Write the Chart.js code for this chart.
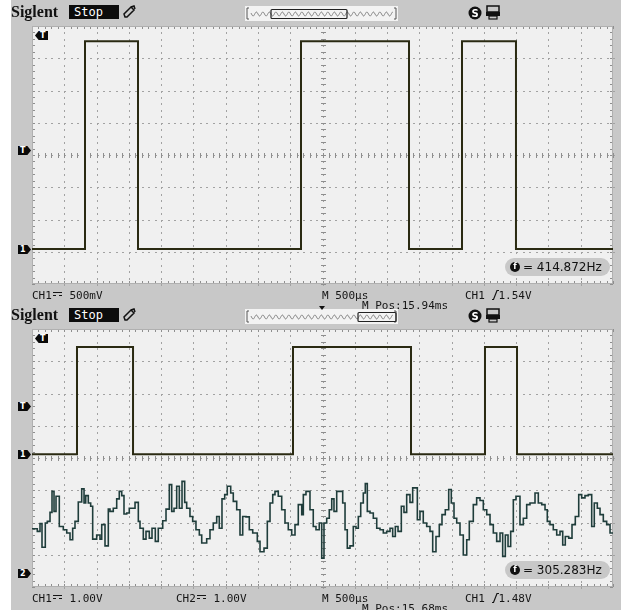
<!DOCTYPE html>
<html><head><meta charset="utf-8">
<script src="https://cdn.jsdelivr.net/npm/chart.js@4.4.1/dist/chart.umd.min.js"></script>
<style>
html,body{margin:0;padding:0;background:#fff;}
body{width:630px;height:610px;position:relative;overflow:hidden;}
#frame{position:absolute;left:11px;top:0;width:610px;height:610px;background:#c8c8c8;}
.panel{position:absolute;left:0;width:630px;height:305px;}
.panel canvas{position:absolute;left:0;top:0;}
.t{position:absolute;font-family:"DejaVu Sans Mono",monospace;font-size:11px;line-height:12px;color:#151515;white-space:nowrap;}
.brand{position:absolute;left:11px;top:3px;font-family:"Liberation Serif","DejaVu Serif",serif;font-weight:bold;font-size:16px;line-height:18px;color:#111;}
.stop{position:absolute;left:69px;top:5px;width:50px;height:14px;background:#0c0c0c;color:#fff;font-family:"DejaVu Sans Mono",monospace;font-size:12px;line-height:14px;padding-left:5px;box-sizing:border-box;}
.tl{position:absolute;left:245px;top:6px;width:153px;height:15px;background:#f3f3f3;}
.tag{position:absolute;width:13px;height:9px;background:#0a0a0a;color:#fff;font-family:"DejaVu Sans",sans-serif;font-weight:bold;font-size:8px;line-height:9px;box-sizing:border-box;}
.tagR{clip-path:polygon(0 0,72% 0,100% 50%,72% 100%,0 100%);padding-left:2px;}
.tagL{clip-path:polygon(28% 0,100% 0,100% 100%,28% 100%,0 50%);padding-left:5px;}
.pill{position:absolute;left:505px;top:258px;width:105px;height:18px;border-radius:9px;background:#c8c8c8;}
.pill .f{position:absolute;left:5px;top:4px;width:10px;height:10px;border-radius:5px;background:#111;color:#fff;font-size:8px;line-height:10px;text-align:center;font-family:"DejaVu Sans",sans-serif;font-weight:bold;}
.pill .v{position:absolute;left:18px;top:2px;font-family:"DejaVu Sans",sans-serif;font-size:12px;line-height:14px;color:#111;white-space:nowrap;}
.dc{display:inline-block;width:9px;height:2px;border-top:1px solid #151515;border-bottom:1px dashed #151515;vertical-align:3px;margin:0 1px 0 1px;}
svg{position:absolute;overflow:visible;}
</style></head>
<body>
<div id="frame"></div>

<div class="panel" id="p1" style="top:0">
  <canvas id="c1" width="630" height="305"></canvas>
  <div class="brand">Siglent</div>
  <div class="stop">Stop</div>
  <svg style="left:122px;top:5px" width="14" height="14"><path d="M3 12 L2 9 L9 2 L12 5 L5 12 Z M9 2 L12 1 L13 4" fill="none" stroke="#111" stroke-width="1.5"/></svg>
  <div class="tl"><svg class="wave" width="153" height="15" style="left:0;top:0"></svg></div>
  <svg style="left:468px;top:6px" width="14" height="14"><circle cx="7" cy="7" r="6.5" fill="#111"/><text x="7" y="11" font-size="10" font-weight="bold" fill="#fff" text-anchor="middle" font-family="DejaVu Sans">S</text></svg>
  <svg style="left:486px;top:5px" width="14" height="15"><rect x="1" y="1" width="12" height="6" fill="none" stroke="#111" stroke-width="1.5"/><rect x="0" y="7" width="14" height="4" fill="#111"/><rect x="3" y="11" width="8" height="3" fill="none" stroke="#111" stroke-width="1.2"/></svg>
  <div class="pill"><div class="f">f</div><div class="v">= 414.872Hz</div></div>
  <div class="t" style="left:32px;top:290px">CH1<span class="dc"></span> 500mV</div>
  <div class="t" style="left:322px;top:290px">M 500µs</div>
  <div class="t" style="left:362px;top:300px">M Pos:15.94ms</div>
  <div class="t" style="left:465px;top:290px">CH1 <svg style="position:relative;display:inline-block;vertical-align:-1px" width="7" height="10"><path d="M0 9.5 L1.5 9.5 L5 0.5 L7 0.5" fill="none" stroke="#151515" stroke-width="1.2"/></svg>1.54V</div>
</div>

<div class="panel" id="p2" style="top:303px">
  <canvas id="c2" width="630" height="305"></canvas>
  <div class="brand">Siglent</div>
  <div class="stop">Stop</div>
  <svg style="left:122px;top:5px" width="14" height="14"><path d="M3 12 L2 9 L9 2 L12 5 L5 12 Z M9 2 L12 1 L13 4" fill="none" stroke="#111" stroke-width="1.5"/></svg>
  <div class="tl"><svg class="wave" width="153" height="15" style="left:0;top:0"></svg></div>
  <svg style="left:468px;top:6px" width="14" height="14"><circle cx="7" cy="7" r="6.5" fill="#111"/><text x="7" y="11" font-size="10" font-weight="bold" fill="#fff" text-anchor="middle" font-family="DejaVu Sans">S</text></svg>
  <svg style="left:486px;top:5px" width="14" height="15"><rect x="1" y="1" width="12" height="6" fill="none" stroke="#111" stroke-width="1.5"/><rect x="0" y="7" width="14" height="4" fill="#111"/><rect x="3" y="11" width="8" height="3" fill="none" stroke="#111" stroke-width="1.2"/></svg>
  <div class="pill"><div class="f">f</div><div class="v">= 305.283Hz</div></div>
  <div class="t" style="left:32px;top:290px">CH1<span class="dc"></span> 1.00V</div>
  <div class="t" style="left:176px;top:290px">CH2<span class="dc"></span> 1.00V</div>
  <div class="t" style="left:322px;top:290px">M 500µs</div>
  <div class="t" style="left:362px;top:300px">M Pos:15.68ms</div>
  <div class="t" style="left:465px;top:290px">CH1 <svg style="position:relative;display:inline-block;vertical-align:-1px" width="7" height="10"><path d="M0 9.5 L1.5 9.5 L5 0.5 L7 0.5" fill="none" stroke="#151515" stroke-width="1.2"/></svg>1.48V</div>
</div>

<script>
// ---- horizontal: 500 us/div, 18 divisions on screen (time in ms from the left edge)
const divMs = 0.5;
const nDivX = 18;

// ---- Upper capture: CH1 500 mV/div
const ch1aTimeMs = [0, 0.821, 1.642, 4.167, 5.840, 6.661, 7.497, 9.0];
const ch1aVolts  = [0, 3.22,  0,     3.22,  0,     3.22,  0,     0];
const ch1aTrigV = 1.54;

// ---- Lower capture: CH1 1.00 V/div
const ch1bTimeMs = [0, 0.697, 1.565, 4.043, 5.871, 7.017, 7.513, 9.0];
const ch1bVolts  = [0, 3.32,  0,     3.32,  0,     3.32,  0,     0];
const ch1bTrigV = 1.48;

// ---- Lower capture: CH2 1.00 V/div (sampled, step-held)
const ch2TimeMs = [0.000,0.082,0.124,0.155,0.206,0.237,0.279,0.310,0.341,0.372,0.423,0.485,0.538,0.589,0.630,0.666,0.717,0.770,0.806,0.832,0.872,0.909,0.940,1.002,1.053,1.080,1.131,1.182,1.208,1.259,1.312,1.352,1.390,1.425,1.467,1.507,1.596,1.647,1.673,1.724,1.766,1.817,1.859,1.910,1.956,2.025,2.076,2.127,2.164,2.200,2.241,2.282,2.324,2.365,2.396,2.447,2.489,2.540,2.592,2.629,2.706,2.757,2.808,2.861,2.901,2.943,2.985,3.025,3.078,3.118,3.171,3.222,3.264,3.315,3.366,3.419,3.490,3.532,3.594,3.645,3.687,3.729,3.764,3.815,3.868,3.919,3.970,4.023,4.074,4.125,4.178,4.203,4.244,4.306,4.357,4.399,4.450,4.488,4.523,4.565,4.605,4.643,4.678,4.720,4.813,4.849,4.884,4.926,4.977,5.019,5.055,5.092,5.132,5.163,5.194,5.236,5.287,5.340,5.391,5.442,5.494,5.546,5.587,5.628,5.670,5.721,5.762,5.804,5.855,5.897,5.969,6.010,6.061,6.114,6.165,6.207,6.258,6.309,6.351,6.402,6.455,6.495,6.537,6.579,6.630,6.681,6.734,6.774,6.836,6.888,6.940,6.991,7.044,7.095,7.146,7.198,7.250,7.291,7.332,7.374,7.415,7.456,7.497,7.559,7.611,7.663,7.714,7.792,7.843,7.896,7.947,7.982,8.024,8.075,8.128,8.179,8.221,8.261,8.314,8.365,8.416,8.469,8.515,8.566,8.617,8.670,8.710,8.757,8.799,8.850,8.902,8.954,9.000];
const ch2Volts  = [1.37,1.29,1.53,0.80,1.55,1.60,1.88,2.53,1.91,2.38,1.44,1.34,1.24,1.03,1.39,1.60,2.20,2.61,2.17,2.40,2.17,2.07,1.05,1.18,1.05,1.50,0.84,1.98,1.91,2.01,2.30,2.53,2.40,1.83,1.86,2.01,2.19,1.60,1.39,1.05,1.29,1.08,1.39,0.98,1.39,1.62,1.98,2.74,1.91,2.01,2.69,2.01,2.84,2.19,2.01,1.75,1.60,1.34,1.18,0.93,1.06,1.34,1.55,1.75,1.39,2.30,2.43,2.69,2.48,2.22,1.96,1.18,1.75,1.74,1.34,1.24,0.98,0.66,0.77,1.60,2.17,2.43,2.53,2.38,1.96,1.55,1.34,1.18,1.50,2.12,1.81,2.43,2.53,1.96,1.44,1.34,1.55,0.46,1.55,1.70,1.96,2.30,1.91,2.53,2.17,1.34,0.77,0.84,1.44,1.39,1.75,2.17,2.48,2.77,1.91,1.86,1.70,1.39,1.34,1.24,1.29,1.39,1.13,1.44,1.29,2.07,1.88,2.43,2.19,2.64,1.65,1.91,1.55,1.44,1.29,0.66,1.13,1.50,1.81,1.96,2.59,2.17,1.70,1.55,1.18,0.56,1.03,1.60,2.12,2.33,2.25,1.96,1.81,1.50,1.24,0.98,1.24,0.51,1.18,0.82,1.29,2.27,2.38,1.50,1.70,2.12,2.17,2.48,2.17,2.12,1.96,1.60,1.50,1.34,1.18,1.29,0.87,1.13,1.08,1.50,1.75,2.43,2.33,2.40,2.43,1.44,2.17,2.01,1.81,1.60,1.50,1.24,1.24];

const pts = (t, v) => t.map((x, i) => ({x, y: v[i]}));

// graticule drawn from the chart's own x scale and chart area
const graticule = {
  id: 'graticule',
  beforeDatasetsDraw(chart) {
    const {ctx, chartArea: a, scales: {x: xs}} = chart;
    const nx = nDivX, ny = 8, sub = 5;
    const px = k => Math.round(xs.getPixelForValue(k * divMs / sub));
    const py = k => Math.round(a.top + k * (a.bottom - a.top) / (ny * sub));
    ctx.save();
    ctx.fillStyle = '#f0f0f0';
    ctx.fillRect(a.left, a.top, a.right - a.left, a.bottom - a.top);
    ctx.fillStyle = '#a2a2a2';
    for (let i = 1; i < nx; i++) { const x = px(i * sub); for (let k = 0; k <= ny * sub; k++) ctx.fillRect(x, py(k), 1, 2); }
    for (let j = 1; j < ny; j++) { const y = py(j * sub); for (let k = 0; k <= nx * sub; k++) ctx.fillRect(px(k), y, 2, 1); }
    ctx.fillStyle = '#8e8e8e';
    const cx = px(nx / 2 * sub), cy = py(ny / 2 * sub);
    for (let k = 0; k <= nx * sub; k++) ctx.fillRect(px(k), cy - 2, 1, 5);
    for (let k = 0; k <= ny * sub; k++) ctx.fillRect(cx - 2, py(k), 5, 1);
    for (let k = 0; k <= nx * sub; k++) { ctx.fillRect(px(k), a.top, 1, 3); ctx.fillRect(px(k), a.bottom - 3, 1, 3); }
    for (let k = 0; k <= ny * sub; k++) { ctx.fillRect(a.left, py(k), 3, 1); ctx.fillRect(a.right - 3, py(k), 3, 1); }
    ctx.strokeStyle = '#b0b0b0'; ctx.lineWidth = 1;
    ctx.strokeRect(a.left + 0.5, a.top + 0.5, a.right - a.left - 1, a.bottom - a.top - 1);
    ctx.restore();
  }
};

function makeChart(id, datasets, yScales) {
  return new Chart(document.getElementById(id), {
    type: 'line',
    data: {datasets},
    options: {
      responsive: false, animation: false, events: [],
      layout: {padding: {left: 32, right: 17, top: 26, bottom: 21}},
      plugins: {legend: {display: false}, tooltip: {enabled: false}, title: {display: false}},
      elements: {point: {radius: 0}, line: {tension: 0}},
      scales: Object.assign({x: {type: 'linear', min: 0, max: divMs * nDivX, display: false}}, yScales)
    },
    plugins: [graticule]
  });
}

const c1 = makeChart('c1', [
  {data: pts(ch1aTimeMs, ch1aVolts), stepped: 'before', borderColor: '#2a2a12', borderWidth: 2, yAxisID: 'y'}
], {y: {min: -0.5425, max: 3.4575, display: false}});

const c2 = makeChart('c2', [
  {data: pts(ch1bTimeMs, ch1bVolts), stepped: 'before', borderColor: '#2a2a12', borderWidth: 2, yAxisID: 'y'},
  {data: pts(ch2TimeMs, ch2Volts), stepped: 'before', borderColor: '#1f3d3b', borderWidth: 1.6, yAxisID: 'y2'}
], {
  y:  {min: -4.12, max: 3.88, display: false},
  y2: {min: -0.434, max: 7.566, display: false}
});

// channel / trigger tags placed from the scales
function tag(panelId, cls, text, left, top) {
  const d = document.createElement('div');
  d.className = 'tag ' + cls; d.textContent = text;
  d.style.left = left + 'px'; d.style.top = top + 'px';
  document.getElementById(panelId).appendChild(d);
}
tag('p1', 'tagL', 'T', 35, 31);
tag('p1', 'tagR', 'T', 18, Math.round(c1.scales.y.getPixelForValue(ch1aTrigV)) - 4);
tag('p1', 'tagR', '1', 18, Math.round(c1.scales.y.getPixelForValue(0)) - 4);
tag('p2', 'tagL', 'T', 35, 31);
tag('p2', 'tagR', 'T', 18, Math.round(c2.scales.y.getPixelForValue(ch1bTrigV)) - 4);
tag('p2', 'tagR', '1', 18, Math.round(c2.scales.y.getPixelForValue(0)) - 4);
tag('p2', 'tagR', '2', 18, Math.round(c2.scales.y2.getPixelForValue(0)) - 4);

// memory-position strip decoration
const wins = [[26, 102], [113, 151]];
document.querySelectorAll('.wave').forEach((svg, idx) => {
  let d = '';
  for (let x = 6; x <= 148; x += 0.5) {
    const y = 8 + 2 * Math.sin(2 * Math.PI * x / 6.5);
    d += (x === 6 ? 'M' : 'L') + x + ' ' + y.toFixed(2) + ' ';
  }
  const w = wins[idx];
  svg.innerHTML =
    '<path d="' + d + '" fill="none" stroke="#777" stroke-width="0.9"/>' +
    '<path d="M4 2 L2 2 L2 13 L4 13 M149 2 L151 2 L151 13 L149 13" fill="none" stroke="#555" stroke-width="1"/>' +
    '<rect x="' + w[0] + '" y="3.5" width="' + (w[1] - w[0]) + '" height="9" fill="none" stroke="#222" stroke-width="1.2" rx="1"/>' +
    (idx === 1 ? '<path d="M74 -3 L80 -3 L77 1 Z" fill="#111"/>' : '');
});
</script>
</body></html>
